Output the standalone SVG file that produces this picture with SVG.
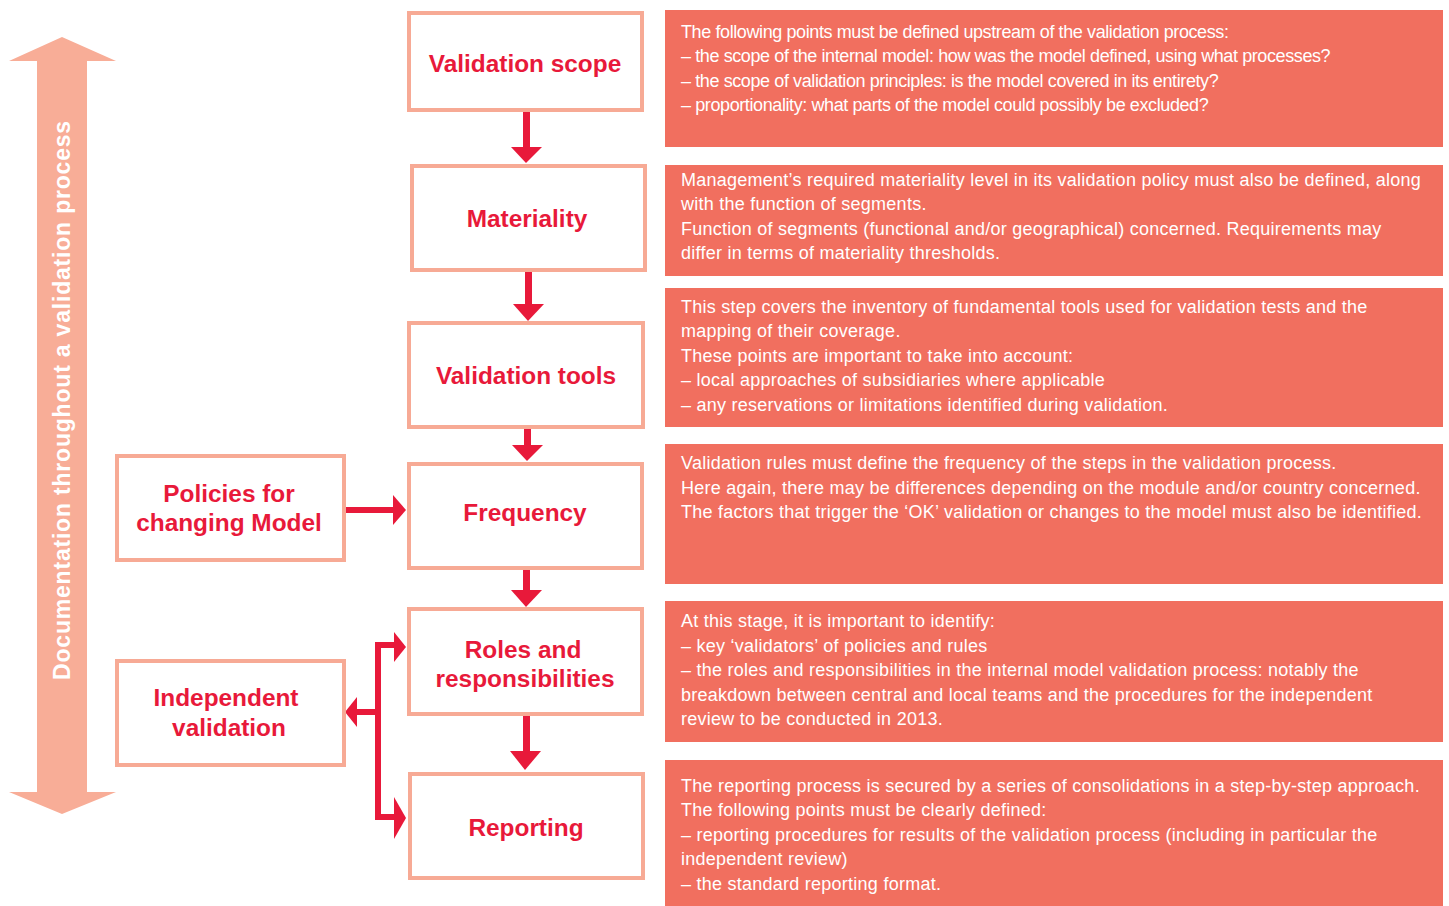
<svg xmlns="http://www.w3.org/2000/svg" width="1449" height="906" viewBox="0 0 1449 906">
<style>
.node rect{fill:#fff;stroke:#F7AA95;stroke-width:4}
.title{font-family:"Liberation Sans",Arial,sans-serif;font-weight:bold;font-size:24.4px;fill:#E8193A;text-anchor:middle}
.desc rect{fill:#F16F5F}
.body{font-family:"Liberation Sans",Arial,sans-serif;font-size:18px;letter-spacing:0.25px;fill:#fff}
.cond{letter-spacing:-0.4px}
.conn{fill:#E8193A}
</style>
<rect width="1449" height="906" fill="#fff"/>
<g id="side-arrow">
<polygon points="62,37 116,61 87,61 87,792 116,792 62,814 9,792 37,792 37,61 9,61" fill="#F8AD97"/>
<text x="62" y="400" transform="rotate(-90 62 400)" font-family="Liberation Sans, Arial, sans-serif" font-weight="bold" font-size="23" letter-spacing="0.8" fill="#fff" text-anchor="middle" dominant-baseline="central">Documentation throughout a validation process</text>
</g>
<g id="connectors">
<rect class="conn" x="523" y="111" width="7" height="36"/><polygon class="conn" points="511,147 542,147 526,163"/>
<rect class="conn" x="525" y="271" width="7" height="33"/><polygon class="conn" points="513,304 544,304 528,321"/>
<rect class="conn" x="524" y="429" width="7" height="16"/><polygon class="conn" points="512,445 543,445 527,461"/>
<rect class="conn" x="523" y="570" width="7" height="20"/><polygon class="conn" points="511,590 542,590 526,607"/>
<rect class="conn" x="523" y="716" width="7" height="36"/><polygon class="conn" points="510,751 541,751 525,770"/>
<rect class="conn" x="345" y="507" width="49" height="6"/><polygon class="conn" points="393,495 406,510 393,525"/>
<rect class="conn" x="375" y="642" width="6" height="178"/>
<rect class="conn" x="375" y="642" width="20" height="6"/><polygon class="conn" points="394,632 406,647 394,662"/>
<rect class="conn" x="375" y="814" width="20" height="6"/><polygon class="conn" points="394,797 406,818 394,839"/>
<rect class="conn" x="356" y="709" width="22" height="6"/><polygon class="conn" points="357,697 345,712 357,727"/>
</g>
<g id="node-scope" class="node"><rect x="409" y="13" width="233" height="97"/><text class="title" x="525" y="72">Validation scope</text></g>
<g id="node-materiality" class="node"><rect x="412" y="166" width="233" height="104"/><text class="title" x="527" y="227">Materiality</text></g>
<g id="node-tools" class="node"><rect x="409" y="323" width="234" height="104"/><text class="title" x="526" y="384">Validation tools</text></g>
<g id="node-frequency" class="node"><rect x="409" y="464" width="233" height="104"/><text class="title" x="525" y="521">Frequency</text></g>
<g id="node-policies" class="node"><rect x="117" y="456" width="227" height="104"/><text class="title" x="229" y="502">Policies for</text><text class="title" x="229" y="531">changing Model</text></g>
<g id="node-roles" class="node"><rect x="409" y="609" width="233" height="105"/><text class="title" x="523" y="658">Roles and</text><text class="title" x="525" y="687">responsibilities</text></g>
<g id="node-independent" class="node"><rect x="117" y="661" width="227" height="104"/><text class="title" x="226" y="706">Independent</text><text class="title" x="229" y="736">validation</text></g>
<g id="node-reporting" class="node"><rect x="410" y="774" width="233" height="104"/><text class="title" x="526" y="836">Reporting</text></g>
<g id="desc-scope" class="desc"><rect x="665" y="10" width="778" height="137"/>
<text class="body cond" x="681" y="38">The following points must be defined upstream of the validation process:</text>
<text class="body cond" x="681" y="62">– the scope of the internal model: how was the model defined, using what processes?</text>
<text class="body cond" x="681" y="87">– the scope of validation principles: is the model covered in its entirety?</text>
<text class="body cond" x="681" y="111">– proportionality: what parts of the model could possibly be excluded?</text></g>
<g id="desc-materiality" class="desc"><rect x="665" y="165" width="778" height="111"/>
<text class="body" x="681" y="186">Management’s required materiality level in its validation policy must also be defined, along</text>
<text class="body" x="681" y="210">with the function of segments.</text>
<text class="body" x="681" y="235">Function of segments (functional and/or geographical) concerned. Requirements may</text>
<text class="body" x="681" y="259">differ in terms of materiality thresholds.</text></g>
<g id="desc-tools" class="desc"><rect x="665" y="288" width="778" height="139"/>
<text class="body" x="681" y="313">This step covers the inventory of fundamental tools used for validation tests and the</text>
<text class="body" x="681" y="337">mapping of their coverage.</text>
<text class="body" x="681" y="362">These points are important to take into account:</text>
<text class="body" x="681" y="386">– local approaches of subsidiaries where applicable</text>
<text class="body" x="681" y="411">– any reservations or limitations identified during validation.</text></g>
<g id="desc-frequency" class="desc"><rect x="665" y="444" width="778" height="140"/>
<text class="body" x="681" y="469">Validation rules must define the frequency of the steps in the validation process.</text>
<text class="body" x="681" y="494">Here again, there may be differences depending on the module and/or country concerned.</text>
<text class="body" x="681" y="518">The factors that trigger the ‘OK’ validation or changes to the model must also be identified.</text></g>
<g id="desc-roles" class="desc"><rect x="665" y="601" width="778" height="141"/>
<text class="body" x="681" y="627">At this stage, it is important to identify:</text>
<text class="body" x="681" y="652">– key ‘validators’ of policies and rules</text>
<text class="body" x="681" y="676">– the roles and responsibilities in the internal model validation process: notably the</text>
<text class="body" x="681" y="701">breakdown between central and local teams and the procedures for the independent</text>
<text class="body" x="681" y="725">review to be conducted in 2013.</text></g>
<g id="desc-reporting" class="desc"><rect x="665" y="760" width="778" height="146"/>
<text class="body" x="681" y="792">The reporting process is secured by a series of consolidations in a step-by-step approach.</text>
<text class="body" x="681" y="816">The following points must be clearly defined:</text>
<text class="body" x="681" y="841">– reporting procedures for results of the validation process (including in particular the</text>
<text class="body" x="681" y="865">independent review)</text>
<text class="body" x="681" y="890">– the standard reporting format.</text></g>
</svg>
